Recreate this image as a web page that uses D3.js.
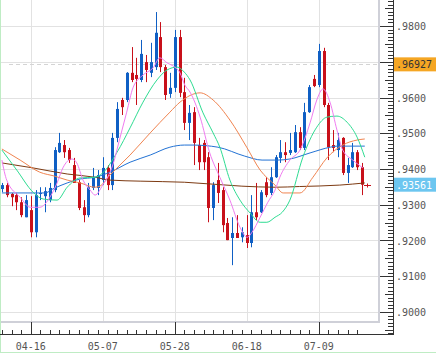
<!DOCTYPE html>
<html>
<head>
    <meta charset="UTF-8" />
    <script src="https://d3js.org/d3.v7.min.js"></script>
    <style>
        body { margin: 0; background: white; }
        svg { display: block; }
    </style>
</head>
<body>
<svg id="chart" width="436" height="353"></svg>
<script>
    // candle data (one per trading day)
    const opens  = [.9344,.9355,.9330,.9327,.9307,.9265,.9285,.9223,.9330,.9324,.9313,.9341,.9447,.9467,.9453,.9411,.9363,.9293,.9271,.9347,
                    .9347,.9369,.9403,.9355,.9487,.9593,.9593,.9669,.9663,.9649,.9699,.9669,.9685,.9769,.9685,.9610,.9627,.9769,.9615,.9529,
                    .9559,.9467,.9473,.9433,.9291,.9369,.9341,.9249,.9207,.9221,.9209,.9215,.9193,.9279,.9279,.9363,.9333,.9377,.9431,.9447,
                    .9445,.9447,.9503,.9459,.9559,.9652,.9635,.9730,.9579,.9467,.9453,.9487,.9389,.9405,.9447,.9405];
    const highs  = [.9361,.9361,.9333,.9333,.9321,.9327,.9324,.9341,.9349,.9349,.9361,.9461,.9501,.9481,.9459,.9431,.9369,.9313,.9361,.9403,
                    .9397,.9433,.9411,.9501,.9587,.9599,.9671,.9741,.9711,.9761,.9719,.9753,.9839,.9811,.9691,.9669,.9789,.9789,.9655,.9579,
                    .9573,.9487,.9481,.9447,.9363,.9417,.9349,.9263,.9265,.9271,.9237,.9271,.9327,.9361,.9341,.9377,.9405,.9439,.9481,.9475,
                    .9501,.9523,.9517,.9585,.9635,.9663,.9750,.9739,.9585,.9509,.9501,.9489,.9431,.9473,.9453,.9417];
    const lows   = [.9335,.9321,.9296,.9285,.9265,.9265,.9209,.9209,.9313,.9279,.9307,.9335,.9445,.9431,.9417,.9361,.9285,.9251,.9265,.9341,
                    .9327,.9355,.9341,.9341,.9475,.9551,.9587,.9643,.9579,.9643,.9643,.9657,.9677,.9671,.9593,.9599,.9615,.9601,.9509,.9481,
                    .9411,.9397,.9397,.9251,.9257,.9305,.9223,.9201,.9131,.9207,.9195,.9179,.9181,.9257,.9277,.9321,.9327,.9375,.9417,.9419,
                    .9439,.9445,.9453,.9453,.9557,.9629,.9629,.9573,.9425,.9447,.9433,.9383,.9361,.9403,.9397,.9327];
    const closes = [.9355,.9327,.9321,.9307,.9271,.9313,.9223,.9327,.9333,.9338,.9347,.9453,.9473,.9447,.9425,.9361,.9291,.9271,.9349,.9377,
                    .9383,.9403,.9355,.9487,.9568,.9573,.9669,.9649,.9652,.9722,.9677,.9699,.9781,.9685,.9607,.9627,.9769,.9613,.9529,.9557,
                    .9473,.9419,.9419,.9291,.9355,.9333,.9243,.9201,.9221,.9207,.9223,.9193,.9279,.9265,.9335,.9327,.9377,.9433,.9447,.9439,
                    .9453,.9503,.9459,.9559,.9629,.9632,.9730,.9579,.9461,.9459,.9481,.9389,.9411,.9447,.9405,.9356];

    // moving average lines, read as [candle index, value]
    const maPink = [[0,.9425],[1,.9369],[3.8,.9321],[5.9,.9293],[7.9,.9293],[10,.9321],[11.5,.9361],[12.7,.9403],[14.6,.9428],[15.6,.9417],
                    [16.9,.9369],[18.4,.9341],[19.4,.9327],[21,.9355],[23.1,.9411],[24.6,.9487],[26,.9559],[27.3,.9627],[29.4,.9663],
                    [31.5,.9683],[32.9,.9711],[34.4,.9697],[36,.9685],[37.1,.9669],[38.1,.9635],[39.2,.9615],[41.3,.9545],[43.3,.9445],
                    [45.4,.9377],[47.5,.9313],[49.6,.9237],[51.1,.9209],[52.1,.9223],[53.8,.9265],[55.4,.9307],[56.9,.9341],[57.9,.9377],
                    [60,.9425],[62.1,.9453],[64.2,.9529],[65.6,.9593],[66.9,.9624],[68.4,.9585],[69.8,.9509],[71,.9453],[73.1,.9425],[75.2,.9403]];
    const maGreen = [[0,.9453],[3.1,.9397],[6.5,.9335],[8.6,.9316],[11.5,.9313],[13.6,.9349],[16.3,.9375],[19.4,.9377],[21,.9389],[24,.9447],
                    [26.7,.9515],[29.4,.9587],[32.3,.9649],[34.4,.9677],[36.5,.9685],[38,.9671],[39.2,.9649],[41.9,.9557],[44,.9501],
                    [45.4,.9461],[47.5,.9369],[49.6,.9313],[51.7,.9277],[53.8,.9251],[55.2,.9251],[56.9,.9265],[58.4,.9279],[60,.9313],
                    [62.7,.9433],[65.6,.9517],[67.7,.9545],[69.8,.9548],[71.9,.9531],[74,.9489],[75.6,.9433]];
    const maOrange = [[0,.9456],[3.8,.9425],[7.9,.9391],[11,.9380],[13.6,.9369],[16.3,.9361],[19.4,.9349],[20.4,.9352],[22.5,.9383],
                    [26.7,.9439],[30.9,.9501],[35,.9559],[37.1,.9587],[41.3,.9613],[44,.9593],[47.5,.9537],[51,.9461],[53.8,.9397],
                    [56.9,.9355],[58.6,.9333],[62.1,.9333],[64.8,.9377],[67.7,.9431],[71,.9467],[74,.9481],[75.6,.9484]];
    const maBlue = [[0,.9333],[9,.9333],[10.6,.9344],[13.6,.9361],[16.3,.9372],[19.4,.9377],[22.5,.9391],[26.7,.9419],[30.9,.9439],
                    [35,.9461],[38,.9467],[39.8,.9467],[45,.9461],[50.6,.9436],[54.2,.9425],[57.5,.9425],[60,.9428],[64.2,.9445],
                    [68.4,.9461],[69.8,.9464],[75.6,.9464]];
    const maBrown = [[0,.9417],[6.5,.9403],[13.6,.9386],[19.4,.9377],[22.5,.9369],[28.8,.9366],[38,.9363],[50,.9352],[56.9,.9349],
                    [62,.9351],[70.4,.9355],[75.6,.9361]];

    const tickIdx = [6, 21, 36, 51, 66];
    const tickLabels = ['04-16', '05-07', '05-28', '06-18', '07-09'];
    const priceTicks = [.90, .91, .92, .93, .94, .95, .96, .97, .98];
    const markLine = .96927;
    const lastPrice = .93561;

    const svg = d3.select('svg#chart');
    const plot = {left: 1, right: 378, top: 0, bottom: 321};
    const axisY = 334, axisX = 393;

    const xScale = d3.scaleLinear().domain([0, 75]).range([1.9, 361.9]);
    const yScale = d3.scaleLinear().domain([0.90, 0.98]).range([312, 26]);

    // outer frame (light green)
    svg.append('rect').attr('x', 0.5).attr('y', -2).attr('width', 440).attr('height', 354.5)
        .attr('fill', 'white').attr('stroke', '#bfecc4');

    // grid
    const grid = svg.append('g');
    priceTicks.forEach(p => {
        grid.append('line')
            .attr('x1', plot.left).attr('x2', plot.right)
            .attr('y1', Math.round(yScale(p)) + 0.5).attr('y2', Math.round(yScale(p)) + 0.5)
            .style('stroke', '#e2e2e2');
    });
    tickIdx.forEach(i => {
        grid.append('line')
            .attr('x1', Math.round(xScale(i)) + 0.5).attr('x2', Math.round(xScale(i)) + 0.5)
            .attr('y1', plot.top).attr('y2', plot.bottom)
            .style('stroke', '#e2e2e2');
    });

    // plot border
    svg.append('line').attr('x1', plot.right + 1).attr('x2', plot.right + 1)
        .attr('y1', 0).attr('y2', plot.bottom + 2).style('stroke', '#cfd0d8').style('stroke-width', 2);
    svg.append('line').attr('x1', plot.left).attr('x2', plot.right + 2)
        .attr('y1', plot.bottom + 1).attr('y2', plot.bottom + 1).style('stroke', '#cfd0d8').style('stroke-width', 2);

    // dashed level
    svg.append('line')
        .attr('x1', plot.left + 8).attr('x2', plot.right)
        .attr('y1', Math.round(yScale(markLine)) + 0.5).attr('y2', Math.round(yScale(markLine)) + 0.5)
        .style('stroke', '#d4d4d4').style('stroke-dasharray', '4,3');

    // candles
    const candles = svg.append('g');
    closes.forEach((c, i) => {
        const up = c >= opens[i];
        const col = up ? '#0f5fc4' : '#c8101a';
        const cx = Math.round(xScale(i));
        candles.append('line')
            .attr('x1', cx + 0.5).attr('x2', cx + 0.5)
            .attr('y1', yScale(highs[i])).attr('y2', yScale(lows[i]))
            .style('stroke', col);
        const top = yScale(Math.max(c, opens[i]));
        const bot = yScale(Math.min(c, opens[i]));
        candles.append('rect')
            .attr('x', cx - 1).attr('y', top)
            .attr('width', 3).attr('height', Math.max(1, bot - top))
            .attr('fill', col);
    });

    // moving averages
    const line = d3.line().x(d => xScale(d[0])).y(d => yScale(d[1])).curve(d3.curveMonotoneX);
    [[maBrown, '#7d3a12'], [maBlue, '#2272d4'], [maOrange, '#f08450'], [maGreen, '#2edc92'], [maPink, '#f07cf0']]
        .forEach(([data, col]) => {
            svg.append('path').datum(data).attr('d', line)
                .attr('fill', 'none').style('stroke', col).style('stroke-width', 1);
        });

    // last price marker
    const ly = Math.round(yScale(lastPrice)) + 0.5;
    svg.append('line').attr('x1', 364).attr('x2', 371).attr('y1', ly).attr('y2', ly).style('stroke', '#c8101a');
    svg.append('line').attr('x1', 367.5).attr('x2', 367.5).attr('y1', ly - 2).attr('y2', ly + 2).style('stroke', '#c8101a');

    // x axis
    const xa = svg.append('g');
    xa.append('line').attr('x1', 0).attr('x2', axisX + 0.5).attr('y1', axisY + 0.5).attr('y2', axisY + 0.5)
        .style('stroke', '#333');
    d3.range(0, 76, 2).forEach(i => {
        const isMajor = tickIdx.includes(i);
        xa.append('line')
            .attr('x1', Math.round(xScale(i)) + 0.5).attr('x2', Math.round(xScale(i)) + 0.5)
            .attr('y1', axisY - (isMajor ? 12 : 4)).attr('y2', axisY)
            .style('stroke', '#333');
    });
    tickIdx.forEach((i, k) => {
        xa.append('text')
            .attr('x', xScale(i)).attr('y', 350)
            .attr('text-anchor', 'middle')
            .style('font-family', 'DejaVu Sans Mono').style('font-size', '10px').style('fill', '#555')
            .text(tickLabels[k]);
    });

    // y axis
    const ya = svg.append('g');
    ya.append('line').attr('x1', axisX + 0.5).attr('x2', axisX + 0.5).attr('y1', 0).attr('y2', axisY + 1)
        .style('stroke', '#333');
    d3.range(893, 988).forEach(k => {
        const y = Math.round(yScale(k / 1000)) + 0.5;
        if (y < 0 || y > axisY) return;
        const len = (k % 10 === 0) ? 13 : (k % 5 === 0 ? 8 : 5);
        ya.append('line').attr('x1', axisX - len).attr('x2', axisX).attr('y1', y).attr('y2', y)
            .style('stroke', '#333');
    });

    const boxes = [[markLine, '#f5a623', '#333'], [lastPrice, '#6cc6f0', 'white']];
    // tick labels, skipping those hidden under a price box
    priceTicks.forEach(p => {
        if (boxes.some(b => Math.abs(yScale(b[0]) - yScale(p)) < 12)) return;
        ya.append('text')
            .attr('x', 396).attr('y', yScale(p) + 4)
            .style('font-family', 'DejaVu Sans Mono').style('font-size', '10px').style('fill', '#555')
            .text(d3.format('.4f')(p).slice(1));
    });

    // price boxes
    boxes.forEach(([p, bg, fg]) => {
        const y = yScale(p);
        svg.append('rect').attr('x', axisX + 1).attr('y', y - 7).attr('width', 43).attr('height', 14).attr('fill', bg);
        svg.append('text').attr('x', 396).attr('y', y + 4)
            .style('font-family', 'DejaVu Sans Mono').style('font-size', '10px').style('fill', fg)
            .text(d3.format('.5f')(p).slice(1));
    });
</script>
</body>
</html>
